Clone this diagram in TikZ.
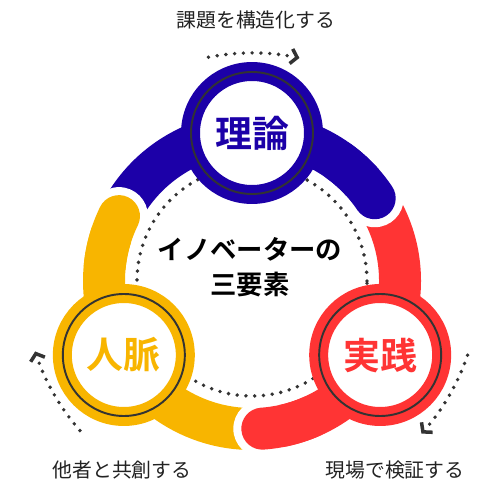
\documentclass[tikz,border=0pt]{standalone}
\usepackage{fontspec}
\setmainfont{Noto Sans CJK JP}[BoldFont={Noto Sans CJK JP Bold}]
\usetikzlibrary{arrows.meta}
\definecolor{riron}{RGB}{28,0,168}
\definecolor{jinmyaku}{RGB}{248,181,0}
\definecolor{jissen}{RGB}{255,52,52}
\definecolor{dotgray}{RGB}{51,51,51}
\definecolor{labelgray}{RGB}{34,34,34}
\tikzset{
  band/.style={line width=23.9pt},
  capband/.style={line width=23.9pt,line cap=round},
  pillar/.style={circle,fill=white,line width=10.8pt,minimum size=2.46cm,inner sep=0pt,
    font=\bfseries\fontsize{21}{21}\selectfont},
  innerring/.style={draw=dotgray,line width=1.1pt},
  dotline/.style={draw=dotgray,line width=2.2pt,line cap=round,dash pattern=on 0pt off 5pt},
  cycle arrow/.style={dotline,-{Straight Barb[length=3.5pt,width=8.5pt,line width=2pt]}},
  label text/.style={text=labelgray,font=\fontsize{11.3}{13}\selectfont},
}
\begin{document}
\begin{tikzpicture}[x=0.02cm,y=0.02cm]
  \useasboundingbox (-252,-219) rectangle (248,281);
  % inner dotted circle
  \draw[dotline] (0,0) circle (115);
  % bands
  \draw[band,riron] (154:148) arc[start angle=154,end angle=34,radius=148];
  \draw[band,jissen] (34:148) arc[start angle=34,end angle=-86,radius=148];
  \draw[band,jinmyaku] (274:148) arc[start angle=274,end angle=154,radius=148];
  % rounded ends over the next band
  \foreach \a/\c in {34/riron,-86/jissen,154/jinmyaku}{
    \fill[white] (\a:148) circle (29);
    \draw[capband,\c] (\a+20:148) arc[start angle=\a+20,end angle=\a,radius=148];
  }
  % pillars
  \node[pillar,draw=riron,text=riron] (theory) at (90:148) {理論};
  \node[pillar,draw=jinmyaku,text=jinmyaku] (network) at (210:148) {人脈};
  \node[pillar,draw=jissen,text=jissen] (practice) at (330:148) {実践};
  \foreach \n in {theory,network,practice}
    \draw[innerring] (\n.center) circle (61);
  % centre title
  \node[font=\bfseries\fontsize{15}{20}\selectfont,align=center] (title) at (-2,13.5)
    {イノベーターの\\三要素};
  % outer cycle arrows
  \foreach \a in {90,210,330}
    \draw[cycle arrow] (\a+11:228) arc[start angle=\a+11,end angle=\a-12,radius=228];
  % labels
  \node[label text] (structure) at (4,261) {課題を構造化する};
  \node[label text] (cocreate) at (-130,-189) {他者と共創する};
  \node[label text] (verify) at (143,-189) {現場で検証する};
\end{tikzpicture}
\end{document}
